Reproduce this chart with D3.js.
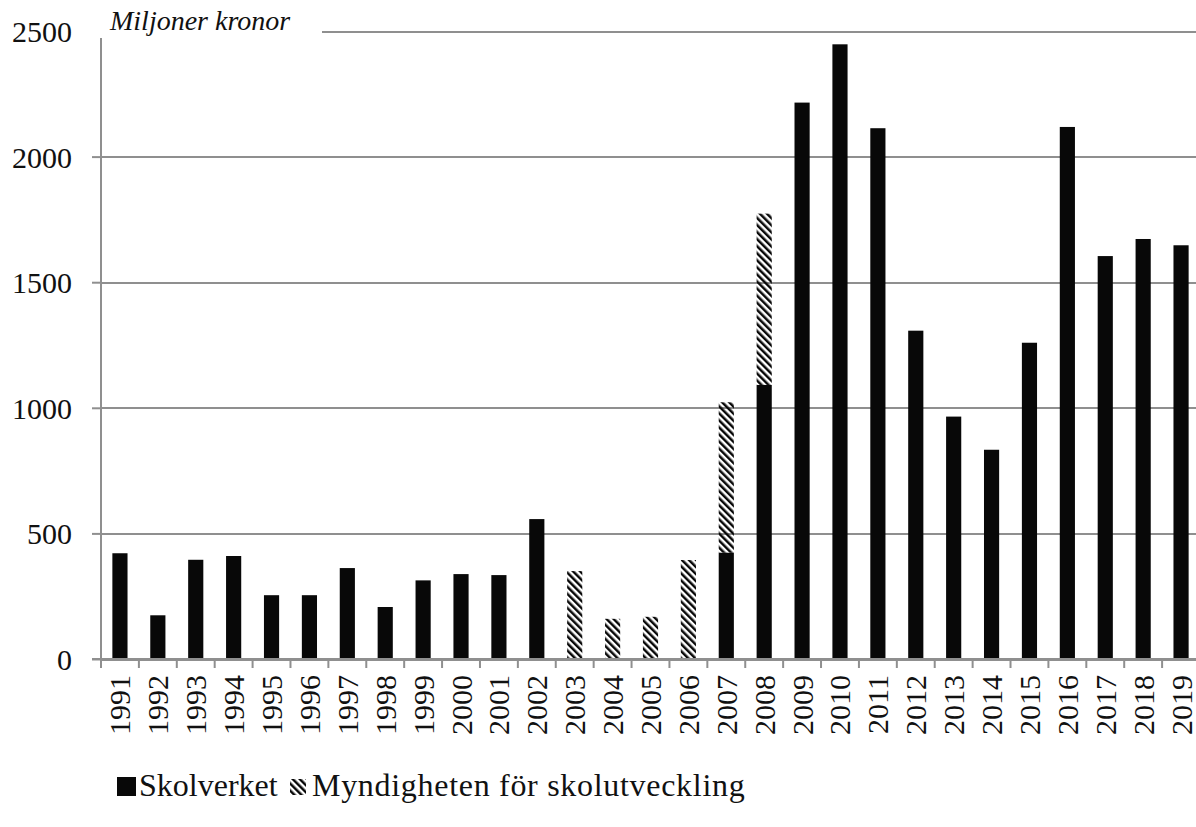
<!DOCTYPE html>
<html>

<head></head>
<style>
    body {
        margin: 0;
        background: white;
    }

    svg {
        position: absolute;
    }

    svg text {
        font-family: 'Liberation Serif', 'Times New Roman', Times, 'DejaVu Serif', serif !important;
        fill: #111;
    }

    .grid line {
        stroke: #8f8f8f;
        stroke-width: 2;
        shape-rendering: crispEdges;
    }

    .grid path {
        stroke-width: 0;
    }
</style>

<body>
    <script src="https://cdn.jsdelivr.net/npm/d3@7"></script>
    <script type="text/javascript">
        var years = ["1991", "1992", "1993", "1994", "1995", "1996", "1997", "1998", "1999", "2000",
            "2001", "2002", "2003", "2004", "2005", "2006", "2007", "2008", "2009", "2010",
            "2011", "2012", "2013", "2014", "2015", "2016", "2017", "2018", "2019"];
        var skolverket = [421, 174, 395, 410, 254, 254, 362, 207, 313, 338,
            334, 557, 0, 0, 0, 0, 423, 1091, 2215, 2447,
            2113, 1307, 965, 833, 1259, 2118, 1604, 1672, 1647];
        var myndigheten = [0, 0, 0, 0, 0, 0, 0, 0, 0, 0,
            0, 0, 350, 160, 168, 394, 599, 682, 0, 0,
            0, 0, 0, 0, 0, 0, 0, 0, 0];
        var yTicks = [0, 500, 1000, 1500, 2000, 2500];
        var seriesNames = ["Skolverket", "Myndigheten för skolutveckling"];

        var svgWidth = 1196,
            svgHeight = 827;
        var plotLeft = 101, plotRight = 1200, plotTop = 31, plotBottom = 659;

        var svg = d3.select('body')
            .append('svg')
            .attr('width', svgWidth)
            .attr('height', svgHeight);

        // hatch for the second series
        var defs = svg.append('defs');
        defs.append('pattern')
            .attr('id', 'hatch')
            .attr('patternUnits', 'userSpaceOnUse')
            .attr('width', 5)
            .attr('height', 5)
            .attr('patternTransform', 'rotate(-45)')
            .append('rect')
            .attr('width', 2.5)
            .attr('height', 5)
            .attr('fill', '#080808');

        var x = d3.scaleBand()
            .domain(years)
            .range([plotLeft, plotRight])
            .paddingInner(0.6)
            .paddingOuter(0.3);

        var y = d3.scaleLinear()
            .domain([0, 2500])
            .range([plotBottom, plotTop]);

        // gridlines
        svg.append('g')
            .attr('class', 'grid')
            .attr('transform', 'translate(' + plotLeft + ',0)')
            .call(d3.axisRight(y).tickValues(yTicks).tickSize(plotRight - plotLeft).tickFormat(''));

        // y tick labels + small ticks
        var yAxis = svg.append('g')
            .attr('transform', 'translate(' + plotLeft + ',0)')
            .call(d3.axisLeft(y).tickValues(yTicks).tickFormat(d3.format('d')).tickSize(9).tickPadding(20));
        yAxis.attr('font-size', 30);
        yAxis.select('.domain').remove();
        yAxis.selectAll('line').attr('stroke', '#8f8f8f').attr('stroke-width', 2);
        yAxis.selectAll('text').attr('dy', '0.35em');

        // bars
        var stack = years.map(function (d, i) {
            return { year: d, a: skolverket[i], b: myndigheten[i] };
        });

        svg.append('g').selectAll('rect')
            .data(stack.filter(function (d) { return d.a > 0; }))
            .enter()
            .append('rect')
            .attr('x', function (d) { return x(d.year); })
            .attr('width', x.bandwidth())
            .attr('y', function (d) { return y(d.a); })
            .attr('height', function (d) { return y(0) - y(d.a); })
            .attr('fill', '#080808');

        svg.append('g').selectAll('rect')
            .data(stack.filter(function (d) { return d.b > 0; }))
            .enter()
            .append('rect')
            .attr('x', function (d) { return x(d.year); })
            .attr('width', x.bandwidth())
            .attr('y', function (d) { return y(d.a + d.b); })
            .attr('height', function (d) { return y(d.a) - y(d.a + d.b); })
            .attr('fill', 'url(#hatch)');

        // x axis with ticks between categories
        var xAxis = svg.append('g')
            .attr('transform', 'translate(0,' + plotBottom + ')')
            .call(d3.axisBottom(x).tickSize(0).tickPadding(0));
        xAxis.attr('font-size', 30);
        xAxis.select('.domain').remove();
        xAxis.append('line')
            .attr('x1', plotLeft - 9).attr('x2', plotRight)
            .attr('stroke', '#8f8f8f').attr('stroke-width', 2);
        xAxis.selectAll('.sep')
            .data(d3.range(years.length + 1))
            .enter()
            .append('line')
            .attr('x1', function (i) { return plotLeft + i * x.step(); })
            .attr('x2', function (i) { return plotLeft + i * x.step(); })
            .attr('y1', 0).attr('y2', 9)
            .attr('stroke', '#8f8f8f').attr('stroke-width', 2);
        xAxis.selectAll('.tick text')
            .attr('transform', 'rotate(-90)')
            .attr('text-anchor', 'end')
            .attr('x', -16)
            .attr('y', 0)
            .attr('dy', '0.35em');

        // y axis line
        svg.append('line')
            .attr('x1', plotLeft).attr('x2', plotLeft)
            .attr('y1', plotTop).attr('y2', plotBottom)
            .attr('stroke', '#8f8f8f').attr('stroke-width', 2);

        // unit label sits on a white box over the top gridline
        svg.append('rect')
            .attr('x', plotLeft - 12).attr('y', 0)
            .attr('width', 322 - plotLeft + 12).attr('height', 38)
            .attr('fill', 'white');
        svg.append('text')
            .attr('x', 110).attr('y', 30)
            .attr('font-style', 'italic')
            .attr('font-size', 28)
            .text('Miljoner kronor');

        // legend
        var legend = svg.append('g').attr('transform', 'translate(117,796)');
        legend.append('rect')
            .attr('x', 0).attr('y', -19).attr('width', 19).attr('height', 19)
            .attr('fill', '#080808');
        legend.append('text')
            .attr('x', 22).attr('y', 0)
            .attr('font-size', 32)
            .text(seriesNames[0]);
        legend.append('rect')
            .attr('x', 173).attr('y', -17).attr('width', 16).attr('height', 16)
            .attr('fill', 'url(#hatch)');
        legend.append('text')
            .attr('x', 195).attr('y', 0)
            .attr('font-size', 32)
            .attr('letter-spacing', 0.7)
            .text(seriesNames[1]);
    </script>
</body>

</html>
